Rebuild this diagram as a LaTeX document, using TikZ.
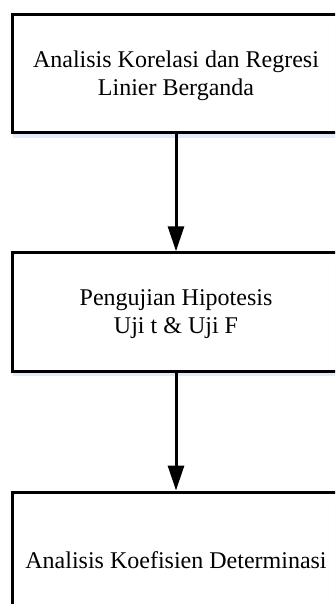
\documentclass[tikz,border=0pt]{standalone}
\usepackage{fontspec}
\setmainfont{Liberation Serif}
\usetikzlibrary{arrows.meta,shadows}
\begin{document}
\begin{tikzpicture}[x=1pt,y=-1pt,
  box/.style={draw=black, line width=3pt, fill=white, minimum width=327pt,
    minimum height=118.5pt, inner sep=0pt,
    drop shadow={shadow xshift=0pt, shadow yshift=-5pt,
      fill={rgb,255:red,226;green,234;blue,247}, opacity=1}},
  txt/.style={align=center, inner sep=0pt, font=\fontsize{24}{28.5}\selectfont},
  conn/.style={line width=3pt, -{Triangle[width=16pt,length=25pt]}}]
\useasboundingbox (0,0) rectangle (335,604);
\clip (0,0) rectangle (335,604);
\node[box] (b1) at (176,73.75) {};
\node[box] (b2) at (176,312) {};
\node[box, minimum height=132pt] (b3) at (176,558) {};
\node[txt] (t1) at ([yshift=-2pt]b1.center) {Analisis Korelasi dan Regresi\\Linier Berganda};
\node[txt] (t2) at ([yshift=-2pt]b2.center) {Pengujian Hipotesis\\Uji t \& Uji F};
\node[txt] (t3) at ([yshift=-2pt]b3.center) {Analisis Koefisien Determinasi};
\draw[conn] (b1.south) -- (b2.north);
\draw[conn] (b2.south) -- (b3.north);
\end{tikzpicture}
\end{document}
